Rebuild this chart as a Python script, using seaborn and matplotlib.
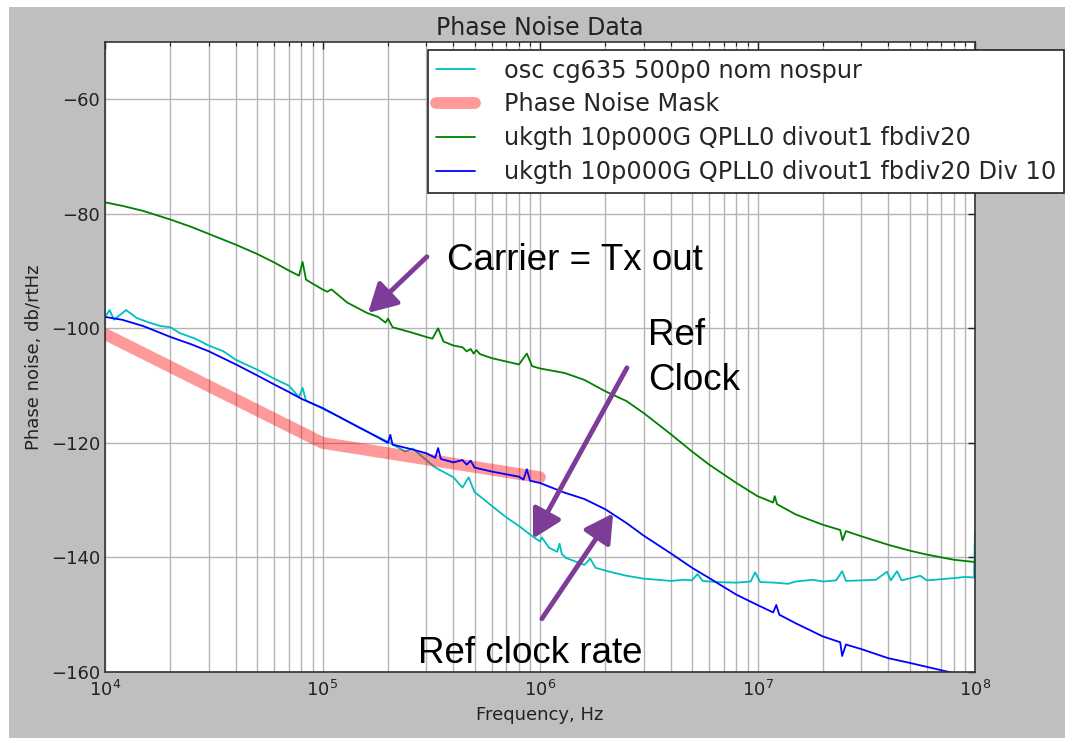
import matplotlib
matplotlib.use("Agg")
import matplotlib.pyplot as plt
from matplotlib.patches import Rectangle
import numpy as np
import pandas as pd
import seaborn as sns

# ---------------- data ----------------
osc_freq = [1.0e4, 1.05e4, 1.1e4, 1.25e4, 1.4e4, 1.6e4, 1.8e4, 2.0e4, 2.2e4, 2.6e4,
            3.0e4, 3.5e4, 4.0e4, 5.0e4, 6.0e4, 7.0e4, 7.8e4, 8.1e4, 8.4e4, 1.0e5,
            1.2e5, 1.5e5, 2.0e5, 2.4e5, 2.6e5, 3.0e5, 3.3e5, 4.0e5, 4.4e5, 4.7e5,
            5.0e5, 5.5e5, 6.0e5, 7.0e5, 8.0e5, 9.3e5, 1.0e6, 1.02e6, 1.1e6, 1.2e6,
            1.23e6, 1.26e6, 1.32e6, 1.6e6, 1.7e6, 1.8e6, 2.04e6, 2.5e6, 3.0e6, 3.5e6,
            4.0e6, 4.6e6, 5.0e6, 5.3e6, 5.6e6, 6.5e6, 8.0e6, 9.3e6, 9.75e6, 1.03e7,
            1.2e7, 1.38e7, 1.5e7, 1.8e7, 2.0e7, 2.3e7, 2.45e7, 2.55e7, 3.0e7, 3.5e7,
            3.94e7, 4.1e7, 4.38e7, 4.6e7, 5.6e7, 6.0e7, 7.0e7, 8.0e7, 9.0e7, 9.9e7,
            1.0e8]
osc_db = [-98.0, -96.8, -98.5, -96.8, -98.2, -99.0, -99.6, -99.8, -100.8, -101.8,
          -103.0, -104.0, -105.5, -107.2, -108.8, -110.0, -112.0, -110.4, -112.6, -114.0,
          -115.5, -117.5, -119.8, -121.5, -121.0, -123.0, -124.3, -126.0, -127.8, -126.0,
          -128.6, -129.8, -131.0, -133.0, -134.5, -136.4, -137.2, -136.5, -138.3, -139.0,
          -137.6, -139.4, -140.1, -141.3, -140.2, -141.8, -142.4, -143.2, -143.7, -143.9,
          -144.1, -143.9, -144.0, -142.9, -144.1, -144.3, -144.4, -144.2, -142.6, -144.3,
          -144.4, -144.6, -144.2, -143.9, -144.2, -144.0, -142.4, -144.1, -144.0, -143.9,
          -142.5, -144.0, -142.4, -144.0, -143.2, -144.0, -143.8, -143.6, -143.4, -143.5,
          -135.5]

mask_freq = [1.0e4, 1.0e5, 1.0e6]
mask_db = [-101.0, -120.0, -126.0]

tx_freq = [1.0e4, 1.2e4, 1.5e4, 2.0e4, 2.5e4, 3.0e4, 4.0e4, 5.0e4, 6.0e4, 7.0e4,
           7.8e4, 8.1e4, 8.4e4, 1.0e5, 1.05e5, 1.1e5, 1.3e5, 1.6e5, 1.8e5, 1.95e5,
           2.0e5, 2.1e5, 2.5e5, 3.0e5, 3.2e5, 3.4e5, 3.6e5, 4.0e5, 4.4e5, 4.6e5,
           4.8e5, 4.95e5, 5.1e5, 5.3e5, 6.0e5, 8.0e5, 8.7e5, 9.2e5, 1.0e6, 1.3e6,
           1.6e6, 2.0e6, 2.5e6, 3.0e6, 4.0e6, 5.0e6, 6.0e6, 8.0e6, 1.0e7, 1.18e7,
           1.2e7, 1.23e7, 1.5e7, 2.0e7, 2.4e7, 2.46e7, 2.55e7, 3.0e7, 4.0e7, 5.0e7,
           6.0e7, 8.0e7, 1.0e8]
tx_db = [-78.0, -78.6, -79.5, -81.0, -82.3, -83.5, -85.4, -87.0, -88.5, -89.9,
         -90.8, -88.4, -91.5, -93.2, -93.6, -93.2, -95.5, -97.3, -98.0, -99.0,
         -98.3, -99.8, -100.6, -101.5, -101.8, -100.0, -102.3, -103.0, -103.3, -104.0,
         -103.6, -104.4, -103.8, -104.5, -105.2, -106.3, -104.4, -106.6, -107.0, -107.8,
         -109.0, -111.0, -112.7, -114.8, -118.5, -121.5, -123.8, -127.0, -129.3, -130.4,
         -129.3, -130.7, -132.5, -134.3, -135.2, -137.0, -135.4, -136.3, -137.8, -138.8,
         -139.5, -140.4, -140.8]

div_freq = [1.0e4, 1.2e4, 1.5e4, 2.0e4, 2.5e4, 3.0e4, 4.0e4, 5.0e4, 6.0e4, 7.0e4,
            8.0e4, 1.0e5, 1.3e5, 1.6e5, 2.0e5, 2.05e5, 2.1e5, 2.5e5, 3.0e5, 3.3e5,
            3.4e5, 3.5e5, 4.0e5, 4.4e5, 4.6e5, 4.8e5, 5.0e5, 6.0e5, 8.0e5, 8.4e5,
            8.7e5, 9.0e5, 1.0e6, 1.3e6, 1.6e6, 2.0e6, 2.5e6, 3.0e6, 4.0e6, 5.0e6,
            6.0e6, 8.0e6, 1.0e7, 1.18e7, 1.22e7, 1.26e7, 1.5e7, 2.0e7, 2.4e7, 2.45e7,
            2.55e7, 3.0e7, 4.0e7, 5.0e7, 6.0e7, 8.0e7, 1.0e8]
div_db = [-98.0, -98.5, -99.6, -101.5, -102.8, -104.0, -106.3, -108.2, -109.8, -111.1,
          -112.3, -113.9, -116.2, -118.0, -120.0, -118.6, -120.3, -121.0, -121.8, -122.6,
          -120.9, -122.8, -123.4, -123.0, -123.8, -123.1, -124.3, -125.0, -125.9, -126.4,
          -124.6, -126.6, -127.0, -128.7, -129.8, -131.6, -134.0, -136.2, -139.3, -141.8,
          -143.6, -146.5, -148.3, -149.6, -148.3, -150.0, -151.5, -153.8, -154.8, -157.2,
          -155.2, -156.0, -157.6, -158.4, -159.1, -160.2, -161.0]

labels = ["osc cg635 500p0 nom nospur",
          "Phase Noise Mask",
          "ukgth 10p000G QPLL0 divout1 fbdiv20",
          "ukgth 10p000G QPLL0 divout1 fbdiv20 Div 10"]
y_ticks = [-160, -140, -120, -100, -80, -60]

# ---------------- figure ----------------
sns.set_style("white")
plt.rcParams["font.family"] = ["DejaVu Sans"]

fig = plt.figure(figsize=(10.65, 7.38), dpi=100, facecolor="white")
fig.patches.append(Rectangle((9 / 1065, 0), 1 - 9 / 1065, 731 / 738,
                             transform=fig.transFigure, facecolor="#bfbfbf",
                             edgecolor="none", zorder=-10))
ax = fig.add_axes([105 / 1065, 66 / 738, 870 / 1065, 630 / 738])
ax.set_facecolor("white")
ax.set_xscale("log")

sns.lineplot(x=osc_freq, y=osc_db, ax=ax, color="#00bfbf", lw=1.3,
             label=labels[0], sort=False, estimator=None)
sns.lineplot(x=mask_freq, y=mask_db, ax=ax, color="red", alpha=0.4, lw=8.5,
             label=labels[1], sort=False, estimator=None)
sns.lineplot(x=tx_freq, y=tx_db, ax=ax, color="#008000", lw=1.3,
             label=labels[2], sort=False, estimator=None)
sns.lineplot(x=div_freq, y=div_db, ax=ax, color="#0000ff", lw=1.3,
             label=labels[3], sort=False, estimator=None)

ax.set_xlim(1e4, 1e8)
ax.set_ylim(-160, -50)
ax.set_yticks(y_ticks)
ax.grid(True, which="both", axis="x", color="#b4b4b4", lw=1.0)
ax.grid(True, which="major", axis="y", color="#b4b4b4", lw=1.0)
ax.set_axisbelow(True)
for s in ax.spines.values():
    s.set_color("#333333")
    s.set_linewidth(1.2)
ax.tick_params(which="both", direction="in", top=True, right=True,
               colors="#222222", labelsize=13)
ax.tick_params(which="major", length=5, width=1)
ax.tick_params(which="minor", length=3, width=0.8)
ax.tick_params(axis="x", which="major", pad=6)

ax.set_title("Phase Noise Data", fontsize=17, color="#222222", pad=5)
ax.set_xlabel("Frequency, Hz", fontsize=13, color="#222222", labelpad=4)
ax.set_ylabel("Phase noise, db/rtHz", fontsize=13, color="#222222", labelpad=6)

leg = ax.legend(loc="upper left", bbox_to_anchor=((428 - 105) / 870, 0.987),
                fontsize=17.3, frameon=True, fancybox=False, edgecolor="#222222",
                framealpha=1, borderaxespad=0, handlelength=1.6,
                handletextpad=1.2, labelspacing=0.41, borderpad=0.35)
leg.get_frame().set_linewidth(1.2)
leg.set_clip_on(False)

# ---------------- annotations ----------------
purple = "#7d3c98"
arrow = dict(arrowstyle="-|>,head_length=0.9,head_width=0.5", color=purple,
             lw=3.5, mutation_scale=19, shrinkA=0, shrinkB=0)
afont = dict(family=["Liberation Sans", "DejaVu Sans"], fontsize=26.5, color="black")

ax.annotate("", xy=(1.62e5, -97.3), xytext=(3.02e5, -87.5), arrowprops=arrow)
ax.annotate("", xy=(9.29e5, -136.7), xytext=(2.51e6, -106.9), arrowprops=arrow)
ax.annotate("", xy=(2.17e6, -132.3), xytext=(1.02e6, -150.7), arrowprops=arrow)

ax.text(3.73e5, -89.75, "Carrier = Tx out", ha="left", va="baseline", **afont)
ax.text(3.14e6, -102.9, "Ref", ha="left", va="baseline", **afont)
ax.text(3.14e6, -110.75, "Clock", ha="left", va="baseline", **afont)
ax.text(2.75e5, -158.35, "Ref clock rate", ha="left", va="baseline", **afont)

fig.savefig("out.png", dpi=100, facecolor=fig.get_facecolor())
